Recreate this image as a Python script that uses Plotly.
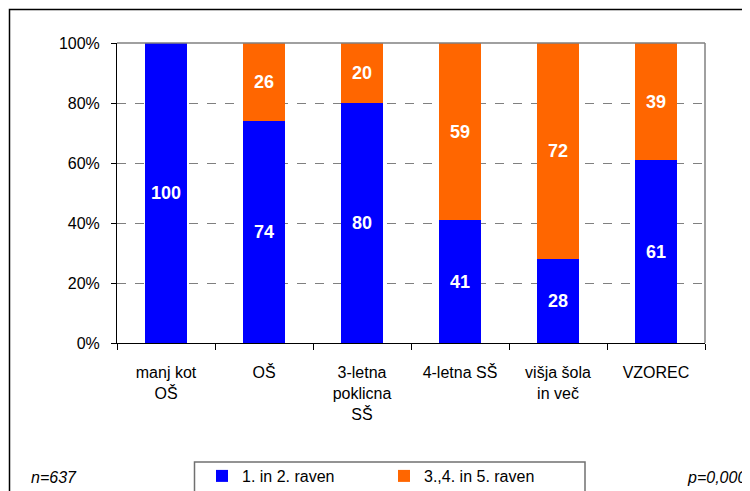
import plotly.graph_objects as go

categories = ["manj kot<br>OŠ", "OŠ", "3-letna<br>poklicna<br>SŠ", "4-letna SŠ", "višja šola<br>in več", "VZOREC"]
level_12 = [100, 74, 80, 41, 28, 61]
level_345 = [0, 26, 20, 59, 72, 39]
series_names = ["1. in 2. raven", "3.,4. in 5. raven"]
y_ticks = [0, 20, 40, 60, 80, 100]
y_tick_labels = ["0%", "20%", "40%", "60%", "80%", "100%"]

FONT = "Arial, Liberation Sans, sans-serif"

# page body margin offsets the figure by 8px; layout targets are screen pixels
OFF = 8
FW, FH = 750 - OFF, 491 - OFF
L, R, T, B = 117 - OFF, 705 - OFF, 43 - OFF, 343 - OFF
W, H = R - L, B - T

def px(x):
    return (x - OFF - L) / W

def py(y):
    return (B - (y - OFF)) / H

def labels(vals):
    return [str(v) if v > 0 else "" for v in vals]

fig = go.Figure()
fig.add_trace(go.Bar(
    x=categories, y=level_12, name=series_names[0],
    marker=dict(color="#0000FF", line=dict(width=0)),
    text=labels(level_12), textposition="inside", insidetextanchor="middle",
    textfont=dict(color="white", size=18, family=FONT, weight="bold"),
    textangle=0,
))
fig.add_trace(go.Bar(
    x=categories, y=level_345, name=series_names[1],
    marker=dict(color="#FF6600", line=dict(width=0)),
    text=labels(level_345), textposition="inside", insidetextanchor="middle",
    textfont=dict(color="white", size=18, family=FONT, weight="bold"),
    textangle=0,
))

fig.update_layout(
    barmode="stack",
    bargap=0.58,
    width=FW, height=FH,
    margin=dict(l=L, r=FW - R, t=T, b=FH - B, autoexpand=False),
    paper_bgcolor="white", plot_bgcolor="white",
    font=dict(family=FONT, size=16, color="black"),
    uniformtext=dict(minsize=10, mode="show"),
    showlegend=True,
    legend=dict(
        orientation="h", x=px(202), y=py(476), xanchor="left", yanchor="middle",
        borderwidth=0, bgcolor="rgba(0,0,0,0)",
        font=dict(size=16, family=FONT),
        entrywidth=137, entrywidthmode="pixels",
        traceorder="normal",
    ),
    xaxis=dict(
        type="category", tickson="boundaries", ticks="outside", ticklen=6,
        tickcolor="black", showline=True, linecolor="black", linewidth=1,
        showgrid=False, ticklabelstandoff=15,
    ),
    yaxis=dict(
        range=[0, 100], tickvals=y_ticks, ticktext=y_tick_labels,
        ticks="outside", ticklen=5, tickcolor="black",
        showline=True, linecolor="black", linewidth=1,
        showgrid=True, gridcolor="#808080", griddash="dash", gridwidth=1,
        zeroline=False, tickfont=dict(size=16), ticklabelstandoff=8,
    ),
    shapes=[
        dict(type="line", xref="paper", yref="paper", x0=0, x1=1, y0=1, y1=1,
             line=dict(color="#808080", width=1.5)),
        dict(type="line", xref="paper", yref="paper", x0=1, x1=1, y0=0, y1=1,
             line=dict(color="#808080", width=1.5)),
        dict(type="rect", xref="paper", yref="paper", x0=px(9.5), x1=px(770),
             y0=py(510), y1=py(9.5), line=dict(color="black", width=1.5),
             fillcolor="rgba(0,0,0,0)", layer="below"),
        dict(type="rect", xref="paper", yref="paper", x0=px(194.5), x1=px(585),
             y0=py(510), y1=py(462), line=dict(color="#707070", width=1.5),
             fillcolor="rgba(0,0,0,0)", layer="below"),
    ],
    annotations=[
        dict(text="<i>n=637</i>", xref="paper", yref="paper",
             x=px(29), y=py(477), xanchor="left", yanchor="middle",
             showarrow=False, font=dict(size=16)),
        dict(text="<i>p=0,000</i>", xref="paper", yref="paper",
             x=px(748), y=py(477), xanchor="right", yanchor="middle",
             showarrow=False, font=dict(size=16)),
    ],
)

fig.write_html("out.html")
